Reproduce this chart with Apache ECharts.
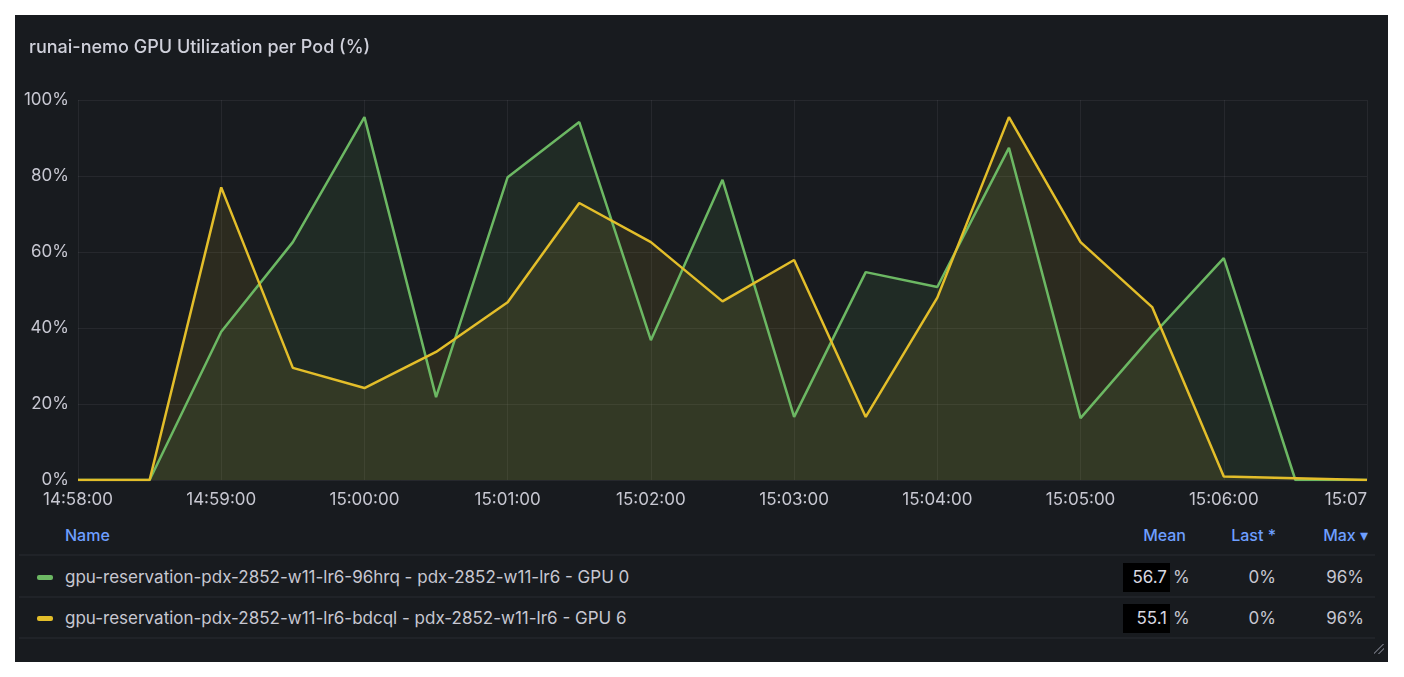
<!DOCTYPE html>
<html>
<head>
<meta charset="utf-8">
<title>runai-nemo GPU Utilization per Pod (%)</title>
<script src="https://cdn.jsdelivr.net/npm/echarts@6/dist/echarts.min.js"></script>
<style>
  html, body { margin: 0; padding: 0; background: #ffffff; width: 1404px; height: 677px; overflow: hidden; }
  body { font-family: Inter, "Noto Sans", sans-serif; }
  #panel { position: absolute; left: 15px; top: 15px; width: 1373px; height: 647px; background: #181b1f; }
  #chart { position: absolute; left: 0; top: 0; width: 1373px; height: 505px; }
  .txt { position: absolute; font-size: 17px; color: #c7c7d1; white-space: nowrap; line-height: 20px; }
  .hdr { color: #6e9fff; font-weight: 500; font-size: 16px; }
  .sep { position: absolute; left: 4px; width: 1356px; height: 2px; background: #202328; }
  .swatch { position: absolute; width: 16px; height: 5px; border-radius: 2px; }
  .meanbox { position: absolute; width: 47px; height: 29px; background: #000000; }
  .grip { position: absolute; right: 4px; bottom: 8px; width: 10px; height: 10px;
          background: linear-gradient(135deg, transparent 45%, #5a5d66 45%, #5a5d66 55%, transparent 55%, transparent 70%, #5a5d66 70%, #5a5d66 80%, transparent 80%); }
</style>
</head>
<body>
<div id="panel">
  <div id="chart"></div>
  <div id="table"></div>
  <div class="grip"></div>
</div>
<script>
// sample times (30 s steps)
var times = ['14:58:00', '14:58:30', '14:59:00', '14:59:30', '15:00:00', '15:00:30', '15:01:00',
             '15:01:30', '15:02:00', '15:02:30', '15:03:00', '15:03:30', '15:04:00', '15:04:30',
             '15:05:00', '15:05:30', '15:06:00', '15:06:30', '15:07:00'];
var xTickLabels = ['14:58:00', '14:59:00', '15:00:00', '15:01:00', '15:02:00', '15:03:00',
                   '15:04:00', '15:05:00', '15:06:00', '15:07'];
var seriesNames = ['gpu-reservation-pdx-2852-w11-lr6-96hrq - pdx-2852-w11-lr6 - GPU 0',
                   'gpu-reservation-pdx-2852-w11-lr6-bdcql - pdx-2852-w11-lr6 - GPU 6'];
var gpu0 = [0, 0, 39, 62.6, 95.5, 21.8, 79.7, 94.2, 36.8, 79, 16.6, 54.7, 50.8, 87.4, 16.3, 38, 58.4, 0, 0];
var gpu6 = [0, 0, 77, 29.5, 24.2, 33.7, 46.8, 72.9, 62.6, 47, 57.9, 16.6, 48, 95.5, 62.6, 45.5, 0.9, 0.45, 0];
var statMean = ['56.7', '55.1'];
var statLast = ['0%', '0%'];
var statMax = ['96%', '96%'];
var colors = ['#6cb863', '#e3be2a'];

function toSec(t) {
    var p = t.split(':');
    return (+p[0] - 14) * 3600 + (+p[1] - 58) * 60 + (+p[2]);
}

function pairs(vals) {
    var out = [];
    for (var i = 0; i < times.length; i++) {
        out.push([toSec(times[i]), vals[i]]);
    }
    return out;
}

var chart = echarts.init(document.getElementById('chart'));
var option = {
    backgroundColor: 'transparent',
    animation: false,
    title: {
        text: 'runai-nemo GPU Utilization per Pod (%)',
        left: 9,
        top: 19,
        textStyle: { color: '#cfd0da', fontSize: 18, fontWeight: 500, fontFamily: 'Inter' }
    },
    grid: { left: 63, right: 21, top: 85, height: 380 },
    xAxis: {
        type: 'value',
        min: 0,
        max: 540,
        interval: 60,
        axisLine: { show: false },
        axisTick: { show: false },
        splitLine: { show: true, lineStyle: { color: 'rgba(204,204,220,0.08)', width: 1 } },
        axisLabel: {
            color: '#c7c7d1',
            fontSize: 17,
            fontFamily: 'Inter',
            margin: 11,
            alignMaxLabel: 'right',
            formatter: function (v) { return xTickLabels[Math.round(v / 60)]; }
        }
    },
    yAxis: {
        type: 'value',
        min: 0,
        max: 100,
        interval: 20,
        axisLine: { show: false },
        axisTick: { show: false },
        splitLine: { lineStyle: { color: 'rgba(204,204,220,0.08)', width: 1 } },
        axisLabel: { color: '#c7c7d1', fontSize: 17, fontFamily: 'Inter', margin: 9, formatter: '{value}%' }
    },
    series: [
        {
            name: seriesNames[0],
            type: 'line',
            data: pairs(gpu0),
            showSymbol: false,
            lineStyle: { color: colors[0], width: 2.5 },
            itemStyle: { color: colors[0] },
            areaStyle: { color: colors[0], opacity: 0.1 }
        },
        {
            name: seriesNames[1],
            type: 'line',
            data: pairs(gpu6),
            showSymbol: false,
            lineStyle: { color: colors[1], width: 2.5 },
            itemStyle: { color: colors[1] },
            areaStyle: { color: colors[1], opacity: 0.1 }
        }
    ]
};
chart.setOption(option);

// legend table (panel coordinates)
function el(cls, style, text) {
    var d = document.createElement('div');
    d.className = cls;
    for (var k in style) d.style[k] = style[k];
    if (text !== undefined) d.textContent = text;
    document.getElementById('table').appendChild(d);
    return d;
}

el('txt hdr', { left: '50px', top: '510px' }, 'Name');
el('txt hdr', { right: '202px', top: '510px' }, 'Mean');
el('txt hdr', { right: '112px', top: '510px' }, 'Last *');
el('txt hdr', { right: '20px', top: '510px' }, 'Max \u25BE');

var sepTops = [539, 581, 622];
for (var s = 0; s < sepTops.length; s++) {
    el('sep', { top: sepTops[s] + 'px' });
}

var rowCenters = [562, 603];
for (var r = 0; r < seriesNames.length; r++) {
    var c = rowCenters[r];
    el('swatch', { left: '22px', top: (c - 2) + 'px', background: colors[r] });
    el('txt', { left: '50px', top: (c - 10) + 'px' }, seriesNames[r]);
    el('meanbox', { left: '1108px', top: (c - 14) + 'px' });
    el('txt', { right: '221px', top: (c - 10) + 'px', color: '#d8d8e0' }, statMean[r]);
    el('txt', { left: '1158px', top: (c - 10) + 'px' }, '%');
    el('txt', { right: '112px', top: (c - 10) + 'px' }, statLast[r]);
    el('txt', { right: '24px', top: (c - 10) + 'px' }, statMax[r]);
}
</script>
</body>
</html>
